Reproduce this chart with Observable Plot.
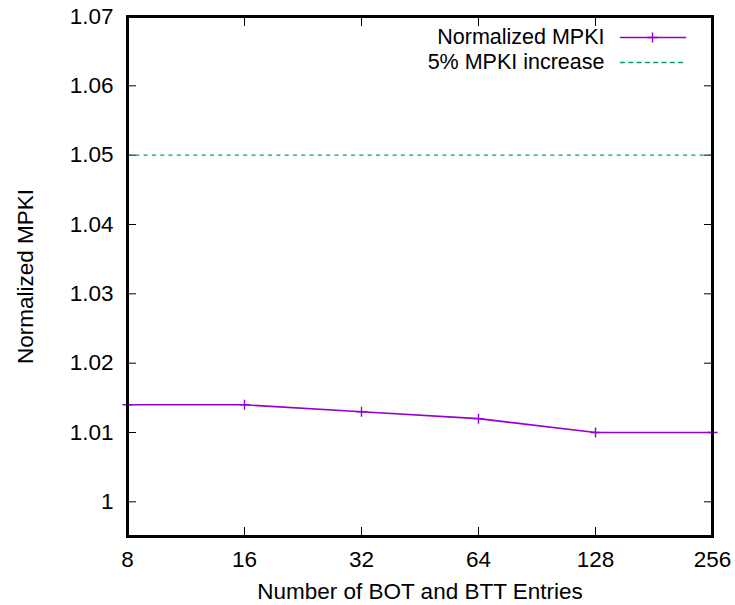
<!DOCTYPE html>
<html><head><meta charset="utf-8">
<script src="https://cdn.jsdelivr.net/npm/d3@7"></script>
<script src="https://cdn.jsdelivr.net/npm/@observablehq/plot@0.6"></script>
<style>html,body{margin:0;padding:0;background:#fff;}</style>
</head><body><div id="chart"></div>
<script>
const entries = [8, 16, 32, 64, 128, 256];
const mpki = [1.014, 1.014, 1.013, 1.012, 1.010, 1.010];
const threshold = [1.05];
const yTicks = [1.00, 1.01, 1.02, 1.03, 1.04, 1.05, 1.06, 1.07];
const seriesNames = ["Normalized MPKI", "5% MPKI increase"];
const xTitle = "Number of BOT and BTT Entries";
const yTitle = "Normalized MPKI";

const purple = "#9400d3", green = "#009e73";
const data = entries.map((x, i) => ({x, y: mpki[i]}));
const cross = {draw(ctx, size) { const r = Math.sqrt(size / Math.PI); ctx.moveTo(-r, 0); ctx.lineTo(r, 0); ctx.moveTo(0, -r); ctx.lineTo(0, r); }};
const hline = {draw(ctx, l) { ctx.moveTo(0, 0); ctx.lineTo(0, -l); }};
const fmtY = d3.format("~g");

const chart = Plot.plot({
  width: 735, height: 605,
  marginLeft: 127, marginRight: 23, marginTop: 16, marginBottom: 69,
  style: {fontFamily: "'Liberation Sans', Arial, sans-serif", fontSize: "22.5px", color: "black", background: "white"},
  x: {type: "log", base: 2, domain: [8, 256]},
  y: {domain: [0.995, 1.07]},
  marks: [
    Plot.axisX(entries, {anchor: "bottom", tickSize: -9, tickPadding: 24, tickFormat: d => String(d), label: null}),
    Plot.axisX(entries, {anchor: "top", tickSize: -9, tickFormat: () => "", label: null}),
    Plot.axisY(yTicks, {anchor: "left", tickSize: -9, tickPadding: 23, tickFormat: d => fmtY(d), label: null}),
    Plot.axisY(yTicks, {anchor: "right", tickSize: -9, tickFormat: () => "", label: null}),
    Plot.ruleY(threshold, {stroke: green, strokeWidth: 1.3, strokeDasharray: "4,4.3"}),
    Plot.line(data, {x: "x", y: "y", stroke: purple, strokeWidth: 1.6}),
    Plot.dot(data, {x: "x", y: "y", symbol: cross, r: 5, stroke: purple, fill: "none", strokeWidth: 1.4}),
    Plot.frame({stroke: "black", strokeWidth: 3}),
    Plot.text([yTitle], {frameAnchor: "left", rotate: -90, dx: -102, textAnchor: "middle", lineAnchor: "middle", text: d => d}),
    Plot.text([xTitle], {frameAnchor: "bottom", dy: 55, textAnchor: "middle", lineAnchor: "middle", text: d => d}),
    // legend
    Plot.text([seriesNames[0]], {frameAnchor: "top-right", dx: -108, dy: 21, textAnchor: "end", lineAnchor: "middle", fontSize: 21.5, text: d => d}),
    Plot.vector([seriesNames[0]], {frameAnchor: "top-right", dx: -92, dy: 21, length: 65, rotate: 90, anchor: "start", shape: hline, stroke: purple, strokeWidth: 1.6}),
    Plot.dot([seriesNames[0]], {frameAnchor: "top-right", dx: -60, dy: 21, symbol: cross, r: 5, stroke: purple, fill: "none", strokeWidth: 1.4}),
    Plot.text([seriesNames[1]], {frameAnchor: "top-right", dx: -108, dy: 46, textAnchor: "end", lineAnchor: "middle", fontSize: 21.5, text: d => d}),
    Plot.vector([seriesNames[1]], {frameAnchor: "top-right", dx: -92, dy: 46, length: 65, rotate: 90, anchor: "start", shape: hline, stroke: green, strokeWidth: 1.3, strokeDasharray: "4,4.3"})
  ]
});
document.getElementById("chart").appendChild(chart);
</script>
</body></html>
